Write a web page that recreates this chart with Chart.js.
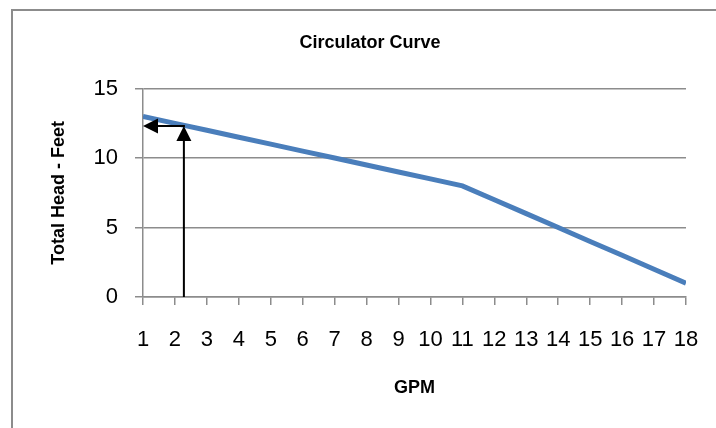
<!DOCTYPE html>
<html>
<head>
<meta charset="utf-8">
<script src="https://cdn.jsdelivr.net/npm/chart.js@4"></script>
<style>
  html, body { margin: 0; padding: 0; background: #fff; overflow: hidden; }
  #frame { position: absolute; left: 11px; top: 9px; width: 800px; height: 500px; border: 2px solid #8c8c8c; }
  #wrap { position: absolute; left: 0; top: 0; width: 716px; height: 428px; }
</style>
</head>
<body>
<div id="frame"></div>
<div id="wrap"><canvas id="chart" width="716" height="428"></canvas></div>
<script>
// ─── Data ───────────────────────────────────────────
const gpm = [1, 2, 3, 4, 5, 6, 7, 8, 9, 10, 11, 12, 13, 14, 15, 16, 17, 18];
const head = [13, 12.5, 12, 11.5, 11, 10.5, 10, 9.5, 9, 8.5, 8, 7, 6, 5, 4, 3, 2, 1];
const headTicks = [0, 5, 10, 15];

// operating point marked with arrows
const opGpm = 2.28;
const opHead = 12.3;

const GRID = '#8c8c8c';
const FONT = "'Liberation Sans', Arial, sans-serif";

// ─── Arrow annotation ───────────────────────────────
function arrowHead(ctx, x, y, dir) {
  const len = 15, half = 7.5;
  ctx.beginPath();
  if (dir === 'up') {
    ctx.moveTo(x, y);
    ctx.lineTo(x - half, y + len);
    ctx.lineTo(x + half, y + len);
  } else {
    ctx.moveTo(x, y);
    ctx.lineTo(x + len, y - half);
    ctx.lineTo(x + len, y + half);
  }
  ctx.closePath();
  ctx.fill();
}

const arrowPlugin = {
  id: 'arrows',
  afterDatasetsDraw(chart) {
    const { ctx, scales: { x, y } } = chart;
    const px = x.getPixelForValue(opGpm);
    const py = y.getPixelForValue(opHead);
    const y0 = y.getPixelForValue(0);
    const x0 = x.getPixelForValue(gpm[0]);
    ctx.save();
    ctx.strokeStyle = '#000';
    ctx.fillStyle = '#000';
    ctx.lineWidth = 2;
    ctx.beginPath();
    ctx.moveTo(px, y0);
    ctx.lineTo(px, py + 12);
    ctx.moveTo(px + 1, py);
    ctx.lineTo(x0 + 12, py);
    ctx.stroke();
    arrowHead(ctx, px, py, 'up');
    arrowHead(ctx, x0, py, 'left');
    ctx.restore();
  }
};

// ─── Chart ──────────────────────────────────────────
new Chart(document.getElementById('chart'), {
  type: 'line',
  data: {
    datasets: [{
      data: gpm.map((g, i) => ({ x: g, y: head[i] })),
      borderColor: '#4a7ebb',
      borderWidth: 5,
      pointRadius: 0,
      tension: 0,
      fill: false
    }]
  },
  options: {
    responsive: false,
    animation: false,
    layout: { padding: { left: 24, right: 0, top: 0, bottom: 0 } },
    plugins: {
      legend: { display: false },
      tooltip: { enabled: false },
      title: {
        display: true,
        text: 'Circulator Curve',
        color: '#000',
        font: { family: FONT, size: 18, weight: 'bold' },
        padding: { top: 32, bottom: 35 }
      }
    },
    scales: {
      x: {
        type: 'linear',
        min: gpm[0],
        max: gpm[gpm.length - 1],
        afterFit(s) { s.height = 131; s.paddingLeft = 0; s.paddingRight = 0; },
        afterBuildTicks(s) { s.ticks = gpm.map(v => ({ value: v })); },
        ticks: { color: '#000', font: { family: FONT, size: 22 }, padding: 22, autoSkip: false, maxRotation: 0 },
        grid: { display: true, drawOnChartArea: false, drawTicks: true, tickLength: 8, color: GRID, lineWidth: 1.5 },
        border: { display: true, color: GRID, width: 1.5 },
        title: {
          display: true,
          text: 'GPM',
          color: '#000',
          font: { family: FONT, size: 18, weight: 'bold' },
          padding: { top: 0, bottom: 29 }
        }
      },
      y: {
        min: 0,
        max: 15,
        afterFit(s) { s.width = 119; },
        afterBuildTicks(s) { s.ticks = headTicks.map(v => ({ value: v })); },
        ticks: { color: '#000', font: { family: FONT, size: 22 }, padding: 17 },
        grid: { color: GRID, lineWidth: 1.5, tickLength: 8 },
        border: { display: true, color: GRID, width: 1.5 },
        title: {
          display: true,
          text: 'Total Head - Feet',
          color: '#000',
          font: { family: FONT, size: 18, weight: 'bold' },
          padding: { top: 24, bottom: 0 }
        }
      },
      // empty right margin so the plot ends where the reference ends
      spacer: {
        position: 'right',
        afterFit(s) { s.width = 30; s.paddingTop = 0; s.paddingBottom = 0; },
        ticks: { display: false },
        grid: { display: false },
        border: { display: false }
      }
    }
  },
  plugins: [arrowPlugin]
});
</script>
</body>
</html>
